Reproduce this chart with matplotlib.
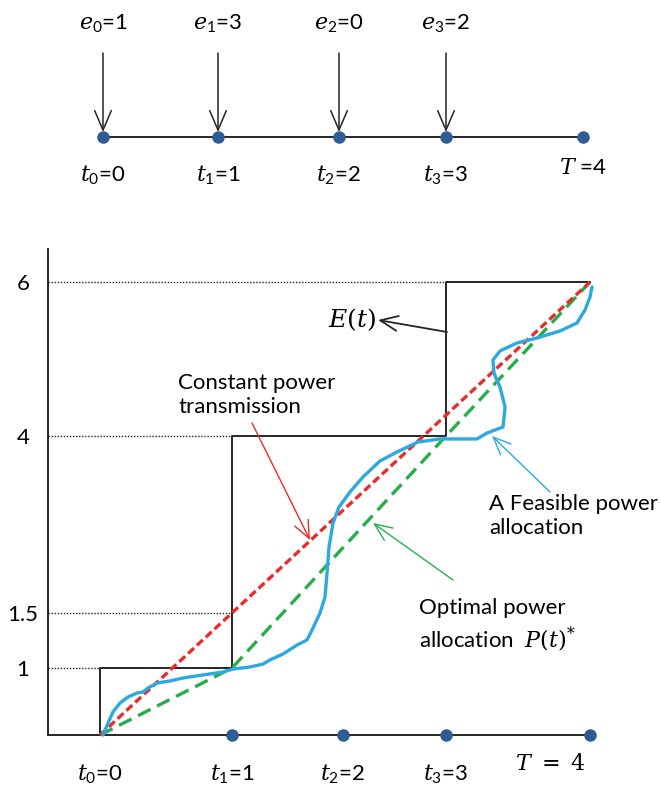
import numpy as np
import matplotlib
matplotlib.use("Agg")
import matplotlib.pyplot as plt
from matplotlib.scale import FuncScale

# ---------------- data ----------------
times = [0, 1, 2, 3, 4]            # t0..t3, T
harvest = [1, 3, 0, 2]             # e0..e3
cum_energy = list(np.cumsum(harvest))   # 1, 4, 4, 6
level_ticks = [1, 1.5, 4, 6]
level_ends = [0, 1, 1, 3]          # where each dotted reference line stops
opt_t = [0, 1, 3, 4]               # optimal (taut-string) allocation vertices
opt_E = [0, 1, 4, 6]
const_t = [0, 4]
const_E = [0, 6]
feas_t = [0.023, 0.061, 0.098, 0.152, 0.212, 0.280, 0.326, 0.364, 0.432, 0.530,
          0.629, 0.780, 0.932, 1.009, 1.162, 1.279, 1.342, 1.459, 1.586, 1.676,
          1.721, 1.793, 1.838, 1.856, 1.874, 1.910, 1.964,
          2.068, 2.194, 2.359, 2.524, 2.728, 2.942, 3.215, 3.285, 3.396, 3.410,
          3.375, 3.333, 3.326, 3.375, 3.493, 3.632, 3.792, 3.910, 3.965, 4.0, 4.014]
feas_E = [0.0, 0.179, 0.343, 0.478, 0.567, 0.627, 0.642, 0.701, 0.776, 0.806,
          0.851, 0.896, 0.940, 0.985, 1.009, 1.036, 1.073, 1.127, 1.209, 1.255,
          1.345, 1.5, 1.726, 2.065, 2.432, 2.771, 2.997,
          3.209, 3.421, 3.647, 3.774, 3.915, 3.958, 3.958, 4.039, 4.117, 4.377,
          4.636, 4.818, 4.987, 5.104, 5.208, 5.273, 5.364, 5.468, 5.636, 5.805, 5.935]
x_labels = [r'$t_{\mathsf{0}}$=0', r'$t_{\mathsf{1}}$=1', r'$t_{\mathsf{2}}$=2', r'$t_{\mathsf{3}}$=3']
e_labels = [r'$e_{\mathsf{0}}$=1', r'$e_{\mathsf{1}}$=3', r'$e_{\mathsf{2}}$=0', r'$e_{\mathsf{3}}$=2']
top_t_labels = x_labels + [r'$T$ =4']

# ---------------- layout (pixel knots of the drawing's non-uniform axes) ----------------
W, H = 661, 786
X_PIX = [100, 232, 343, 446, 590]
Y_PIX = [735, 668, 613, 436, 282]
TOP_X_PIX = [103, 218, 339, 446, 583]

plt.rcParams['font.family'] = ['Lato', 'DejaVu Sans']
plt.rcParams['mathtext.fontset'] = 'custom'
plt.rcParams['mathtext.rm'] = 'DejaVu Serif'
plt.rcParams['mathtext.it'] = 'DejaVu Serif:italic'
plt.rcParams['mathtext.sf'] = 'Lato'

FS = 16
C_RED = '#EC2B2B'
C_GRN = '#27AE4A'
C_BLU = '#2CA9E1'
C_DOT = '#2E5D95'
C_BLK = '#262626'


def pw(x, xp, fp):
    x = np.asarray(x, dtype=float)
    xp = np.asarray(xp, dtype=float)
    fp = np.asarray(fp, dtype=float)
    y = np.interp(x, xp, fp)
    lo = fp[0] + (x - xp[0]) * (fp[1] - fp[0]) / (xp[1] - xp[0])
    hi = fp[-1] + (x - xp[-1]) * (fp[-1] - fp[-2]) / (xp[-1] - xp[-2])
    y = np.where(x < xp[0], lo, y)
    y = np.where(x > xp[-1], hi, y)
    return y


def ff(x, y):
    return (x / W, 1 - y / H)


fig = plt.figure(figsize=(W / 100, H / 100), dpi=100)

# ---------------- top timeline ----------------
axt = fig.add_axes([0, 1 - 200 / H, 1, 200 / H])
axt.set_xscale(FuncScale(axt, (lambda t: pw(t, times, TOP_X_PIX), lambda p: pw(p, TOP_X_PIX, times))))
axt.set_xlim(pw(0, TOP_X_PIX, times), pw(W, TOP_X_PIX, times))
axt.set_ylim(200, 0)
axt.axis('off')
axt.plot([times[0], times[-1]], [137, 137], color=C_BLK, lw=1.4, zorder=2)
axt.plot(times, [137] * len(times), 'o', color=C_DOT, ms=8, zorder=3)
for t, lab in zip(times[:-1], e_labels):
    axt.annotate('', xy=(t, 132), xytext=(t, 53),
                 arrowprops=dict(arrowstyle='->,head_length=0.7,head_width=0.3', color=C_BLK,
                                 lw=1.1, shrinkA=0, shrinkB=0, mutation_scale=20))
    axt.text(t, 24, lab, ha='center', va='center', fontsize=FS)
for t, lab in zip(times, top_t_labels):
    axt.text(t, 175 if t < 4 else 168, lab, ha='center', va='center', fontsize=FS)

# ---------------- bottom chart ----------------
ax = fig.add_axes([48 / W, (H - 735) / H, (590 - 48) / W, (735 - 249) / H])
ax.set_xscale(FuncScale(ax, (lambda t: pw(t, times, X_PIX), lambda p: pw(p, X_PIX, times))))
neg_y = [-v for v in Y_PIX]
e_knots = [0] + level_ticks
ax.set_yscale(FuncScale(ax, (lambda e: pw(e, e_knots, neg_y), lambda v: pw(v, neg_y, e_knots))))
x_left = float(pw(48, X_PIX, times))
ax.set_xlim(x_left, times[-1])
ax.set_ylim(0, float(pw(-249, neg_y, e_knots)))
for s in ['top', 'right']:
    ax.spines[s].set_visible(False)
for s in ['left', 'bottom']:
    ax.spines[s].set_linewidth(1.4)
    ax.spines[s].set_color(C_BLK)
    ax.spines[s].set_zorder(1)

ax.set_yticks(level_ticks)
ax.set_yticklabels([('%g' % v) for v in level_ticks], fontsize=FS)
ax.tick_params(axis='y', length=0, pad=18)
for lbl in ax.get_yticklabels():
    lbl.set_horizontalalignment('center')
ax.set_xticks(times[:-1])
ax.set_xticklabels(x_labels, fontsize=FS)
ax.tick_params(axis='x', length=0, pad=20)
ax.minorticks_off()

# dotted reference levels
for lv, te in zip(level_ticks, level_ends):
    ax.plot([x_left, te], [lv, lv], color=C_BLK, lw=1.0, ls=(0, (1, 1.2)), clip_on=False, zorder=1)

# E(t) staircase
sx, sy = [times[0]], [0]
for i in range(len(harvest)):
    sx += [times[i], times[i + 1]]
    sy += [cum_energy[i], cum_energy[i]]
ax.plot(sx, sy, color=C_BLK, lw=1.4, clip_on=False, zorder=2)

ax.plot(opt_t, opt_E, color=C_GRN, lw=2.4, dashes=(4.2, 2.2), clip_on=False, zorder=3)
ax.plot(const_t, const_E, color=C_RED, lw=2.4, dashes=(2.4, 1.2), clip_on=False, zorder=4)
ax.plot(feas_t, feas_E, color=C_BLU, lw=2.4, clip_on=False, zorder=5,
        solid_joinstyle='round', solid_capstyle='round')
ax.plot(times[1:], [0] * 4, 'o', color=C_DOT, ms=8, clip_on=False, zorder=6)

# annotations (figure pixel layout)
fig.text(*ff(550, 764), r'$T\ =\ 4$', ha='center', va='center', fontsize=FS)
fig.text(*ff(352, 320), r'$E(t)$', ha='center', va='center', fontsize=FS + 2)
fig.text(*ff(178, 395), 'Constant power\ntransmission', ha='left', va='center',
         fontsize=FS, linespacing=1.25)
fig.text(*ff(489, 516), 'A Feasible power\nallocation', ha='left', va='center',
         fontsize=FS, linespacing=1.25)
fig.text(*ff(419, 626), 'Optimal power\nallocation  $P(t)^{*}$', ha='left', va='center',
         fontsize=FS, linespacing=1.25)


def arrow(start, tip, color, lw):
    fig.add_artist(matplotlib.patches.FancyArrowPatch(
        ff(*start), ff(*tip), transform=fig.transFigure,
        arrowstyle='->,head_length=0.7,head_width=0.3', color=color, lw=lw,
        mutation_scale=18, shrinkA=0, shrinkB=0))


arrow((447, 332), (378, 320), C_BLK, 1.3)
arrow((252, 423), (310, 540), C_RED, 1.0)
arrow((550, 492), (492, 436), C_BLU, 1.0)
arrow((453, 580), (373, 523), C_GRN, 1.0)

fig.savefig('out.png', dpi=100)
